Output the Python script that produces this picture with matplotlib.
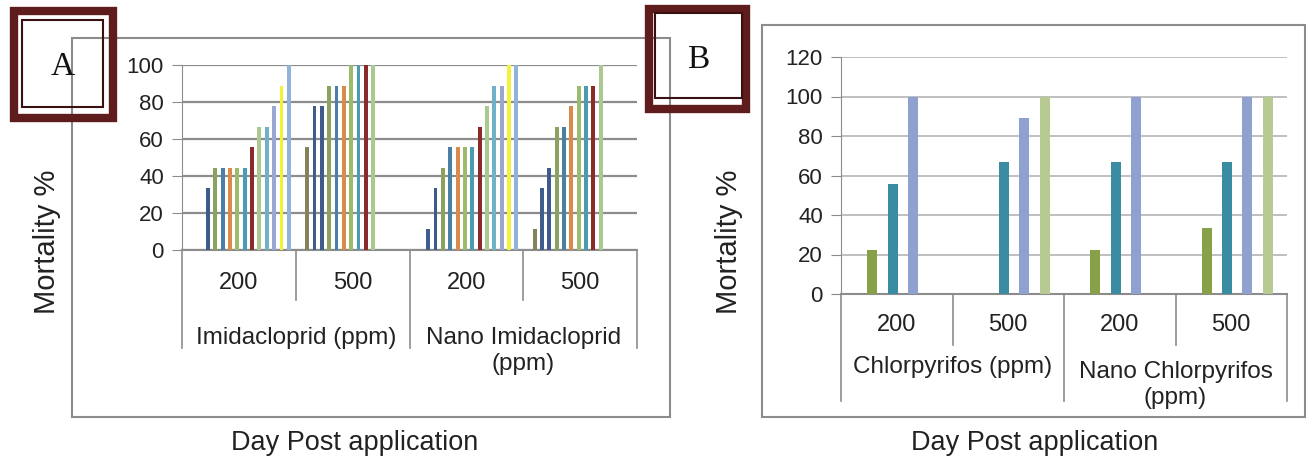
import matplotlib.pyplot as plt
from matplotlib.patches import Rectangle
import numpy as np

plt.rcParams['font.family'] = ['Liberation Sans', 'DejaVu Sans']

W, H = 1312, 466

doses = ["200", "500", "200", "500"]

# panel A: mortality % for each day (rows) in each dose group (columns)
imida_days = np.array([
    [0, 55.6, 0, 11.1],
    [0, 77.8, 11.1, 33.3],
    [33.3, 77.8, 33.3, 44.4],
    [44.4, 88.9, 44.4, 66.7],
    [44.4, 88.9, 55.6, 66.7],
    [44.4, 88.9, 55.6, 77.8],
    [44.4, 100, 55.6, 88.9],
    [44.4, 100, 55.6, 88.9],
    [55.6, 100, 66.7, 88.9],
    [66.7, 100, 77.8, 100],
    [66.7, 0, 88.9, 0],
    [77.8, 0, 88.9, 0],
    [88.9, 0, 100, 0],
    [100, 0, 100, 0],
])
imida_colors = ["#85835c", "#3e5f8e", "#3f5b8c", "#8ba35e", "#4a7fa6", "#d98c4a",
                "#9dbb6c", "#4b9bb1", "#8a2b2b", "#a9c98f", "#6fb2c8", "#9aa7d2",
                "#f2f23a", "#8fb3d9"]
imida_products = ["Imidacloprid (ppm)", "Nano Imidacloprid\n(ppm)"]

# panel B
chlor_days = np.array([
    [22.2, 0, 22.2, 33.3],
    [55.6, 66.7, 66.7, 66.7],
    [100, 88.9, 100, 100],
    [0, 100, 0, 100],
])
chlor_colors = ["#87a04a", "#3a8ca3", "#8fa2cf", "#b6ca92"]
chlor_products = ["Chlorpyrifos (ppm)", "Nano Chlorpyrifos\n(ppm)"]


def px_axes(left, top, right, bottom):
    return fig.add_axes([left / W, 1 - bottom / H, (right - left) / W, (bottom - top) / H])


def draw_panel(ax, data, colors, ymax, step, bar_w, grid_c, grid_lw, plot_h,
               products, dose_y, prod_y, nano_y, small_y, big_y):
    n = data.shape[0]
    x = np.arange(len(doses))
    spacing = 1 / (n + 1.5)
    for k in range(n):
        ax.bar(x + (k - (n - 1) / 2 + 0.3) * spacing, data[k], width=bar_w,
               color=colors[k], zorder=3)
    ax.set_xlim(-0.5, len(doses) - 0.5)
    ax.set_ylim(0, ymax)
    ax.set_yticks(np.arange(0, ymax + 1, step))
    ax.yaxis.grid(True, color=grid_c, linewidth=grid_lw, zorder=0)
    for s in ["top", "right"]:
        ax.spines[s].set_visible(False)
    ax.spines["left"].set_color("#8c8c8c")
    ax.spines["bottom"].set_color("#8c8c8c")
    ax.spines["bottom"].set_linewidth(1.5)
    ax.set_xticks([])
    ax.tick_params(axis="y", length=7, color="#8c8c8c", labelsize=16,
                   labelcolor="#222222", pad=6)
    tr = ax.get_xaxis_transform()
    for i, d in enumerate(doses):
        ax.text(i, -dose_y / plot_h, d, transform=tr, ha="center", va="center",
                fontsize=17, color="#222222")
    ax.text(0.5, -prod_y / plot_h, products[0], transform=tr, ha="center",
            va="center", fontsize=17.5, color="#222222")
    ax.text(2.5, -nano_y / plot_h, products[1], transform=tr, ha="center",
            va="center", fontsize=17.5, color="#222222", linespacing=1.2)
    for xs in [0.5, 2.5]:
        ax.plot([xs, xs], [0, -small_y / plot_h], transform=tr, clip_on=False,
                color="#8c8c8c", lw=1.2)
    for xs in [-0.5, 1.5, 3.5]:
        ax.plot([xs, xs], [0, -big_y / plot_h], transform=tr, clip_on=False,
                color="#8c8c8c", lw=1.2)


def label_box(x0, y0, x1, y1, ix0, iy0, ix1, iy1, letter, ty):
    fig.add_artist(Rectangle((x0 / W + 0.003, 1 - y1 / H + 0.008),
                             (x1 - x0) / W - 0.006, (y1 - y0) / H - 0.016,
                             transform=fig.transFigure, fill=False,
                             edgecolor="#5e1c1c", lw=6))
    fig.add_artist(Rectangle((ix0 / W, 1 - iy1 / H), (ix1 - ix0) / W, (iy1 - iy0) / H,
                             transform=fig.transFigure, fill=False,
                             edgecolor="#3a1010", lw=1.5))
    fig.text((ix0 + ix1) / 2 / W, 1 - ty / H, letter,
             family=["Liberation Serif", "DejaVu Serif"], fontsize=24,
             ha="center", va="center", color="#111111")


fig = plt.figure(figsize=(W / 100, H / 100), dpi=100)

# outer chart borders
fig.add_artist(Rectangle((72 / W, 1 - 417 / H), (670 - 72) / W, (417 - 38) / H,
                         transform=fig.transFigure, fill=False,
                         edgecolor="#8c8c8c", lw=1.5))
fig.add_artist(Rectangle((762 / W, 1 - 417 / H), (1305 - 762) / W, (417 - 25) / H,
                         transform=fig.transFigure, fill=False,
                         edgecolor="#8c8c8c", lw=1.5))

axA = px_axes(182, 65, 637, 250)
draw_panel(axA, imida_days, imida_colors, 100, 20, 0.034, "#8c8c8c", 1.6, 185,
           imida_products, 33, 88, 101, 50, 98)

axB = px_axes(841, 57, 1287, 294)
draw_panel(axB, chlor_days, chlor_colors, 120, 20, 0.09, "#b4b4b4", 1.2, 237,
           chlor_products, 31, 73, 91, 51, 107)

fig.text(47 / W, 1 - 242 / H, "Mortality %", rotation=90, ha="center",
         va="center", fontsize=21, color="#222222")
fig.text(729 / W, 1 - 242 / H, "Mortality %", rotation=90, ha="center",
         va="center", fontsize=21, color="#222222")
fig.text(355 / W, 1 - 443 / H, "Day Post application", ha="center",
         va="center", fontsize=19.5, color="#222222")
fig.text(1035 / W, 1 - 443 / H, "Day Post application", ha="center",
         va="center", fontsize=19.5, color="#222222")

label_box(10, 7, 117, 122, 22, 20, 103, 107, "A", 67)
label_box(645, 5, 750, 113, 655, 13, 742, 98, "B", 60)

plt.savefig("out.png", dpi=100)
